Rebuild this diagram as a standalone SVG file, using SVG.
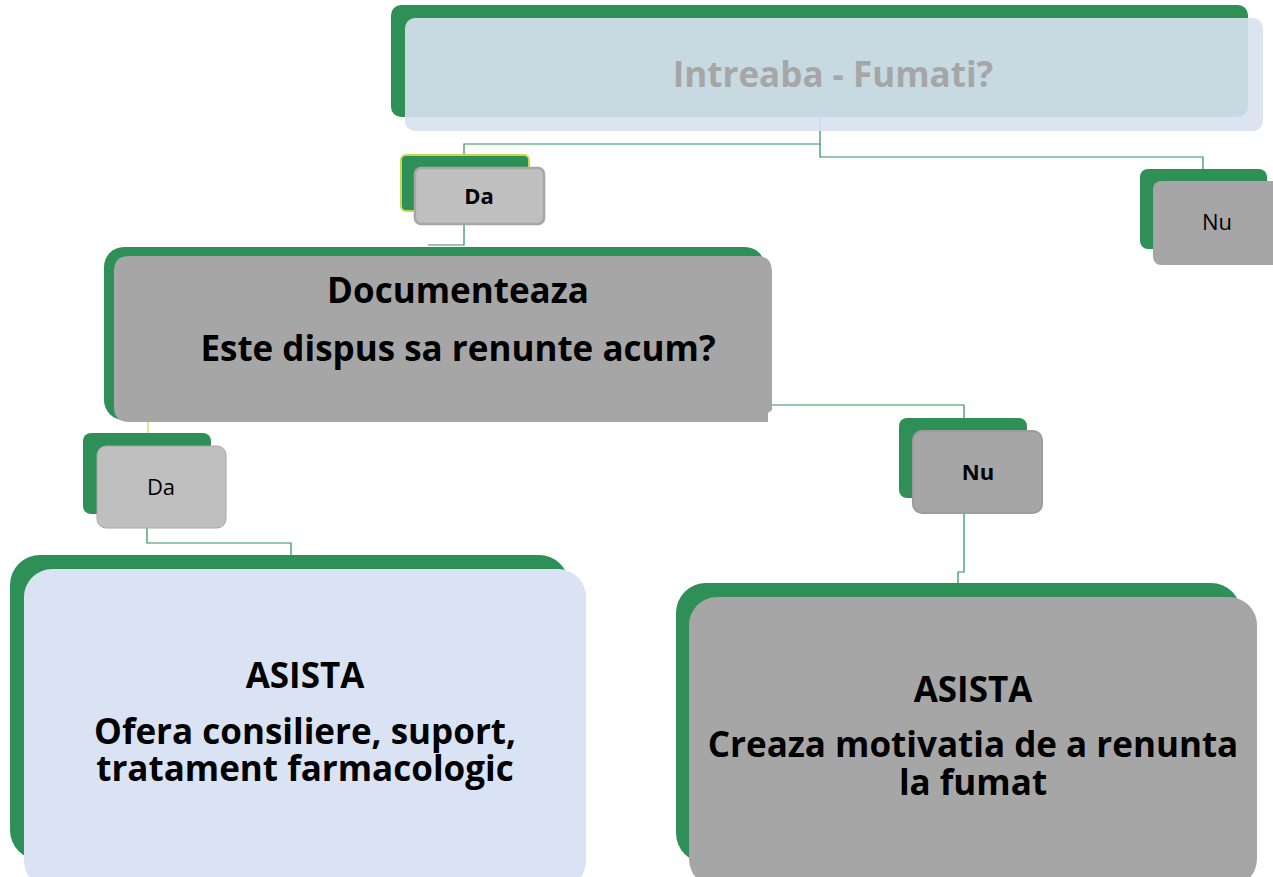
<svg xmlns="http://www.w3.org/2000/svg" width="1273" height="877" viewBox="0 0 1273 877">
<style>
.back{fill:#2E8F57}
.conn{fill:none;stroke:#2E8F57;stroke-width:1.2}
.t{font-family:"Open Sans","Noto Sans","DejaVu Sans",sans-serif;text-anchor:middle;fill:#000}
.b{font-weight:bold}
.big{font-size:35px}
.sm{font-size:22px}
</style>
<rect width="1273" height="877" fill="#FFFFFF"/>
<g id="connectors">
  <polyline class="conn" points="820,117 820,144 464,144 464,155"/>
  <polyline class="conn" points="820,144 820,157 1203,157 1203,169"/>
  <polyline class="conn" points="464,225 464,245 428,245"/>
  <polyline class="conn" points="148,421 148,433" style="stroke:#C8D84E"/>
  <polyline class="conn" points="147,528 147,543 291,543 291,555"/>
  <polyline class="conn" points="772,405 964,405 964,418"/>
  <polyline class="conn" points="964,513 964,572 958,572 958,583"/>
</g>
<g id="node-intreaba">
  <rect class="back" x="391" y="5" width="857" height="112" rx="10"/>
  <rect x="405" y="18" width="858" height="113" rx="10" fill="#D8E1F1" fill-opacity="0.9"/>
  <text class="t b big" x="833" y="87" style="fill:#A6A6A6">Intreaba - Fumati?</text>
</g>
<g id="node-da1">
  <rect class="back" x="401" y="155" width="128" height="56" rx="5" stroke="#C8D84E" stroke-width="2"/>
  <rect x="415" y="168" width="129" height="56" rx="6" fill="#BFBFBF" stroke="#A6A6A6" stroke-width="2.5"/>
  <text class="t b sm" x="479" y="204">Da</text>
</g>
<g id="node-nu1">
  <rect class="back" x="1140" y="169" width="127" height="80" rx="8"/>
  <rect x="1153" y="181" width="130" height="84" rx="8" fill="#A6A6A6"/>
  <text class="t sm" x="1217" y="230">Nu</text>
</g>
<g id="node-documenteaza">
  <rect class="back" x="104" y="247" width="661" height="173" rx="20"/>
  <path d="M129,256 H757 Q772,256 772,271 V410 L768,413 V422 H129 Q114,422 114,407 V271 Q114,256 129,256 Z" fill="#A6A6A6"/>
  <text class="t b big" x="458" y="303">Documenteaza</text>
  <text class="t b big" x="458" y="361">Este dispus sa renunte acum?</text>
</g>
<g id="node-da2">
  <rect class="back" x="83" y="433" width="128" height="81" rx="8"/>
  <rect x="97" y="446" width="129" height="82" rx="9" fill="#BFBFBF" stroke="#A6A6A6" stroke-width="1"/>
  <text class="t sm" x="161" y="495">Da</text>
</g>
<g id="node-nu2">
  <rect class="back" x="899" y="418" width="128" height="80" rx="8"/>
  <rect x="913" y="431" width="129" height="82" rx="9" fill="#A6A6A6" stroke="#9C9C9C" stroke-width="2"/>
  <text class="t b sm" x="978" y="480">Nu</text>
</g>
<g id="node-asista-left">
  <rect class="back" x="10" y="555" width="559" height="305" rx="30"/>
  <rect x="24" y="569" width="562" height="320" rx="28" fill="#DAE3F3"/>
  <text class="t b big" x="305" y="688">ASISTA<tspan x="305" dy="56">Ofera consiliere, suport,</tspan><tspan x="305" dy="37">tratament farmacologic</tspan></text>
</g>
<g id="node-asista-right">
  <rect class="back" x="676" y="583" width="565" height="280" rx="30"/>
  <rect x="689" y="597" width="568" height="290" rx="28" fill="#A6A6A6"/>
  <text class="t b big" x="973" y="702">ASISTA<tspan x="973" dy="55">Creaza motivatia de a renunta</tspan><tspan x="973" dy="38">la fumat</tspan></text>
</g>
</svg>
